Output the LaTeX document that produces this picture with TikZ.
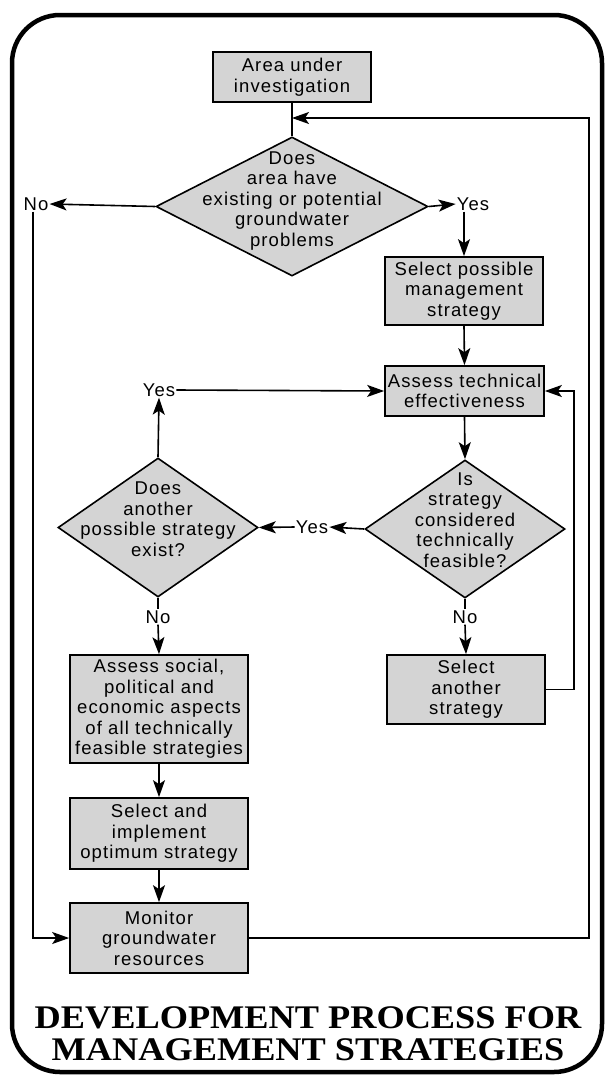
\documentclass[tikz,border=0pt]{standalone}
\usepackage{fontspec}
\newfontfamily\flowfont{Liberation Sans}[LetterSpace=6]
\newfontfamily\headfont{Liberation Serif}
\usetikzlibrary{shapes.geometric,arrows.meta}
\definecolor{boxgray}{RGB}{212,212,212}
\newcommand{\wideline}[1]{\scalebox{1.1}[1]{#1}}
\begin{document}
\begin{tikzpicture}[x=1pt,y=-1pt,
  flowtext/.style={font=\flowfont\fontsize{18.5}{20.5}\selectfont, align=center},
  stepbox/.style={flowtext, draw=black, line width=1.7pt, fill=boxgray, inner sep=0pt},
  decision/.style={diamond, draw=black, line width=1.6pt, fill=boxgray, inner sep=0pt},
  dtext/.style={flowtext, inner sep=0pt},
  lbl/.style={flowtext, inner sep=1pt},
  conn/.style={line width=1.6pt},
  arr/.style={conn, -{Stealth[length=17pt,width=12pt,inset=4pt]}},
  heading/.style={font=\headfont\bfseries\fontsize{33}{32}\selectfont, align=center, inner sep=0pt}
]
\useasboundingbox (0,0) rectangle (605,1076);

% outer frame
\draw[line width=4.5pt, rounded corners=48pt] (12,15) rectangle (602,1072);

% boxes
\node[stepbox, minimum width=158pt, minimum height=50pt] (area) at (292,77) {Area under\\investigation};
\node[stepbox, minimum width=158pt, minimum height=68pt] (sel) at (464,291) {Select possible\\management\\strategy};
\node[stepbox, minimum width=159pt, minimum height=50pt] (tech) at (464.5,391) {Assess technical\\effectiveness};
\node[stepbox, minimum width=178pt, minimum height=108pt] (social) at (159,709) {Assess social,\\political and\\economic aspects\\of all technically\\feasible strategies};
\node[stepbox, minimum width=178pt, minimum height=71pt] (impl) at (159,833.5) {Select and\\implement\\optimum strategy};
\node[stepbox, minimum width=178pt, minimum height=70pt] (monitor) at (159,938) {Monitor\\groundwater\\resources};
\node[stepbox, minimum width=158pt, minimum height=69pt] (another) at (466,689.5) {Select\\another\\strategy};

% decisions
\node[decision, minimum width=272pt, minimum height=139pt] (d1) at (292,206.5) {};
\node[dtext] (d1t) at (292,201) {Does\\area have\\existing or potential\\groundwater\\problems};
\node[decision, minimum width=200pt, minimum height=138pt] (d2) at (465,529) {};
\node[dtext] (d2t) at (465,520) {Is\\strategy\\considered\\technically\\feasible?};
\node[decision, minimum width=200pt, minimum height=139pt] (d3) at (158,527.5) {};
\node[dtext] (d3t) at (158,519) {Does\\another\\possible strategy\\exist?};

% branch labels
\node[lbl] (no1) at (36,204) {No};
\node[lbl] (yes1) at (473,204) {Yes};
\node[lbl] (yes2) at (312,527) {Yes};
\node[lbl] (yes3) at (159,390) {Yes};
\node[lbl] (no2) at (465,617) {No};
\node[lbl] (no3) at (158,617) {No};

% loop corners
\coordinate (join) at (292,118);
\coordinate (outer) at (589,118);
\coordinate (inner) at (574,391);

% connectors
\draw[conn] (area.south) -- (d1.north);
\draw[arr] (monitor.east) -| (outer) -- (join);
\draw[arr] (d1.west) -- (no1.east);
\draw[arr] ([xshift=-3pt]no1.south) |- (monitor.west);
\draw[arr] (d1.east) -- (yes1.west);
\draw[arr] (yes1.south -| sel.north) -- (sel.north);
\draw[arr] (sel.south) -- (tech.north);
\draw[arr] (tech.south) -- (d2.north);
\draw[arr] (d2.west) -- (yes2.east);
\draw[arr] (yes2.west) -- (d3.east);
\draw[arr] (d3.north) -- (yes3.south);
\draw[arr] (yes3.east) -- (tech.west);
\draw[conn] (d2.south) -- (no2.north);
\draw[arr] (no2.south) -- (another.north);
\draw[conn] (d3.south) -- (no3.north);
\draw[arr] (no3.south) -- (social.north);
\draw[arr] (social.south) -- (impl.north);
\draw[arr] (impl.south) -- (monitor.north);
\draw[arr] (another.east) -| (inner) -- (tech.east);

% title
\node[heading] (title) at (308,1034) {\wideline{DEVELOPMENT PROCESS FOR}\\\wideline{MANAGEMENT STRATEGIES}};
\end{tikzpicture}
\end{document}
